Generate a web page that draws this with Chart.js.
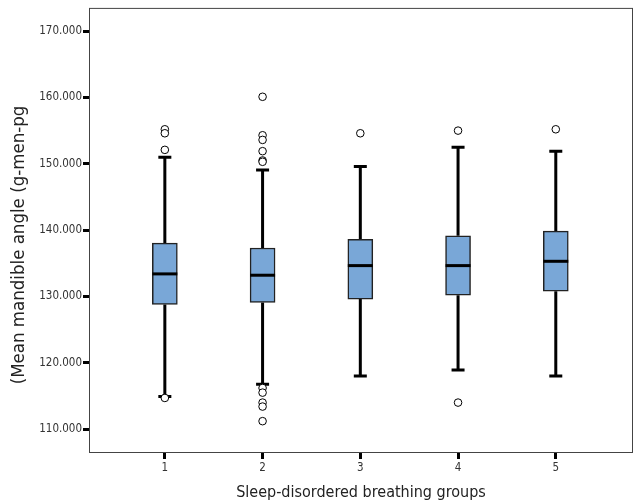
<!DOCTYPE html>
<html>
<head>
<meta charset="utf-8">
<script src="https://cdn.jsdelivr.net/npm/chart.js@4"></script>
<style>
  html, body { margin: 0; padding: 0; background: #fff; }
  #wrap { width: 636px; height: 502px; }
</style>
</head>
<body>
<div id="wrap"><canvas id="boxChart" width="636" height="502"></canvas></div>
<script>
// groups on the x axis
const groups = [1, 2, 3, 4, 5];
// box plot stats
const whiskerLow = [114.9, 116.75, 118.0, 118.9, 118.0];
const q1 = [128.8, 129.1, 129.6, 130.2, 130.8];
const median = [133.4, 133.2, 134.65, 134.65, 135.3];
const q3 = [138.05, 137.3, 138.6, 139.15, 139.85];
const whiskerHigh = [151.0, 149.05, 149.6, 152.5, 151.9];
// outliers per group
const outliers = [
    [155.2, 154.6, 152.1, 114.7],
    [160.1, 154.3, 153.6, 151.9, 150.5, 150.3, 116.2, 115.5, 114.0, 113.4, 111.2],
    [154.6],
    [155.0, 114.0],
    [155.2]
];
const yTicks = [110, 120, 130, 140, 150, 160, 170];
const yTitle = '(Mean mandible angle (g-men-pg';

const fontFamily = '"DejaVu Sans Condensed", "DejaVu Sans", sans-serif';

const boxData = groups.map((g, i) => ({ x: g, y: [q1[i], q3[i]] }));
const outlierData = [];
groups.forEach((g, i) => {
    outliers[i].forEach(v => outlierData.push({ x: g, y: v }));
});

// whiskers, caps and medians, drawn through the chart's scales
const boxExtras = {
    id: 'boxExtras',
    beforeDatasetsDraw(chart) {
        const { ctx, scales: { x, y } } = chart;
        ctx.save();
        ctx.strokeStyle = '#000';
        ctx.lineWidth = 3;
        groups.forEach((g, i) => {
            const px = x.getPixelForValue(g);
            ctx.beginPath();
            ctx.moveTo(px, y.getPixelForValue(whiskerHigh[i]));
            ctx.lineTo(px, y.getPixelForValue(q3[i]));
            ctx.moveTo(px, y.getPixelForValue(q1[i]));
            ctx.lineTo(px, y.getPixelForValue(whiskerLow[i]));
            ctx.stroke();
            ctx.beginPath();
            ctx.moveTo(px - 6.5, y.getPixelForValue(whiskerHigh[i]));
            ctx.lineTo(px + 6.5, y.getPixelForValue(whiskerHigh[i]));
            ctx.moveTo(px - 6.5, y.getPixelForValue(whiskerLow[i]));
            ctx.lineTo(px + 6.5, y.getPixelForValue(whiskerLow[i]));
            ctx.stroke();
        });
        ctx.restore();
    },
    afterDatasetDraw(chart, args) {
        if (args.index !== 0) return;
        const { ctx, scales: { x, y } } = chart;
        ctx.save();
        ctx.strokeStyle = '#000';
        ctx.lineWidth = 3;
        groups.forEach((g, i) => {
            const px = x.getPixelForValue(g);
            const py = y.getPixelForValue(median[i]);
            ctx.beginPath();
            ctx.moveTo(px - 12.5, py);
            ctx.lineTo(px + 12.5, py);
            ctx.stroke();
        });
        ctx.restore();
    },
    afterDraw(chart) {
        const { ctx, chartArea: a } = chart;
        ctx.save();
        ctx.strokeStyle = '#444';
        ctx.lineWidth = 1;
        ctx.strokeRect(a.left + 0.5, a.top + 0.5, a.right - a.left - 1, a.bottom - a.top - 1);
        // y axis title, sits a little below the plot's middle like the original
        ctx.translate(19, 245);
        ctx.rotate(-Math.PI / 2);
        ctx.fillStyle = '#222';
        ctx.font = '18.5px ' + fontFamily;
        ctx.textAlign = 'center';
        ctx.textBaseline = 'middle';
        ctx.fillText(yTitle, 0, 0);
        ctx.restore();
    }
};

const ctx = document.getElementById('boxChart').getContext('2d');
new Chart(ctx, {
    data: {
        datasets: [
            {
                type: 'bar',
                data: boxData,
                backgroundColor: '#79a7d7',
                borderColor: '#222',
                borderWidth: 1.5,
                borderSkipped: false,
                barThickness: 25
            },
            {
                type: 'scatter',
                data: outlierData,
                pointStyle: 'circle',
                pointRadius: 3.8,
                pointBackgroundColor: '#fff',
                pointBorderColor: '#000',
                pointBorderWidth: 1
            }
        ]
    },
    options: {
        responsive: false,
        animation: false,
        layout: { autoPadding: false, padding: { top: 6, right: 3, left: 0, bottom: 0 } },
        plugins: {
            legend: { display: false },
            tooltip: { enabled: false }
        },
        scales: {
            x: {
                type: 'linear',
                offset: false,
                min: 0.224,
                max: 5.79,
                afterFit(scale) {
                    scale.height = 49;
                    scale.paddingLeft = 0;
                    scale.paddingRight = 0;
                },
                afterBuildTicks(scale) { scale.ticks = groups.map(v => ({ value: v })); },
                grid: {
                    offset: false,
                    drawOnChartArea: false,
                    drawTicks: true,
                    tickLength: 6,
                    tickWidth: 3,
                    tickColor: '#000'
                },
                border: { display: false },
                ticks: {
                    padding: 2,
                    color: '#333',
                    font: { family: fontFamily, size: 11.5 },
                    callback: v => String(v)
                },
                title: {
                    display: true,
                    text: 'Sleep-disordered breathing groups',
                    color: '#222',
                    padding: { top: 0, bottom: 0 },
                    font: { family: fontFamily, size: 16 }
                }
            },
            y: {
                type: 'linear',
                min: 106.4,
                max: 173.5,
                afterFit(scale) { scale.width = 89; },
                afterBuildTicks(scale) { scale.ticks = yTicks.map(v => ({ value: v })); },
                grid: {
                    drawOnChartArea: false,
                    drawTicks: true,
                    tickLength: 6,
                    tickWidth: 3,
                    tickColor: '#000'
                },
                border: { display: false },
                ticks: {
                    padding: 1,
                    color: '#333',
                    font: { family: fontFamily, size: 11.5 },
                    callback: v => v.toFixed(3)
                }
            }
        }
    },
    plugins: [boxExtras]
});
</script>
</body>
</html>
